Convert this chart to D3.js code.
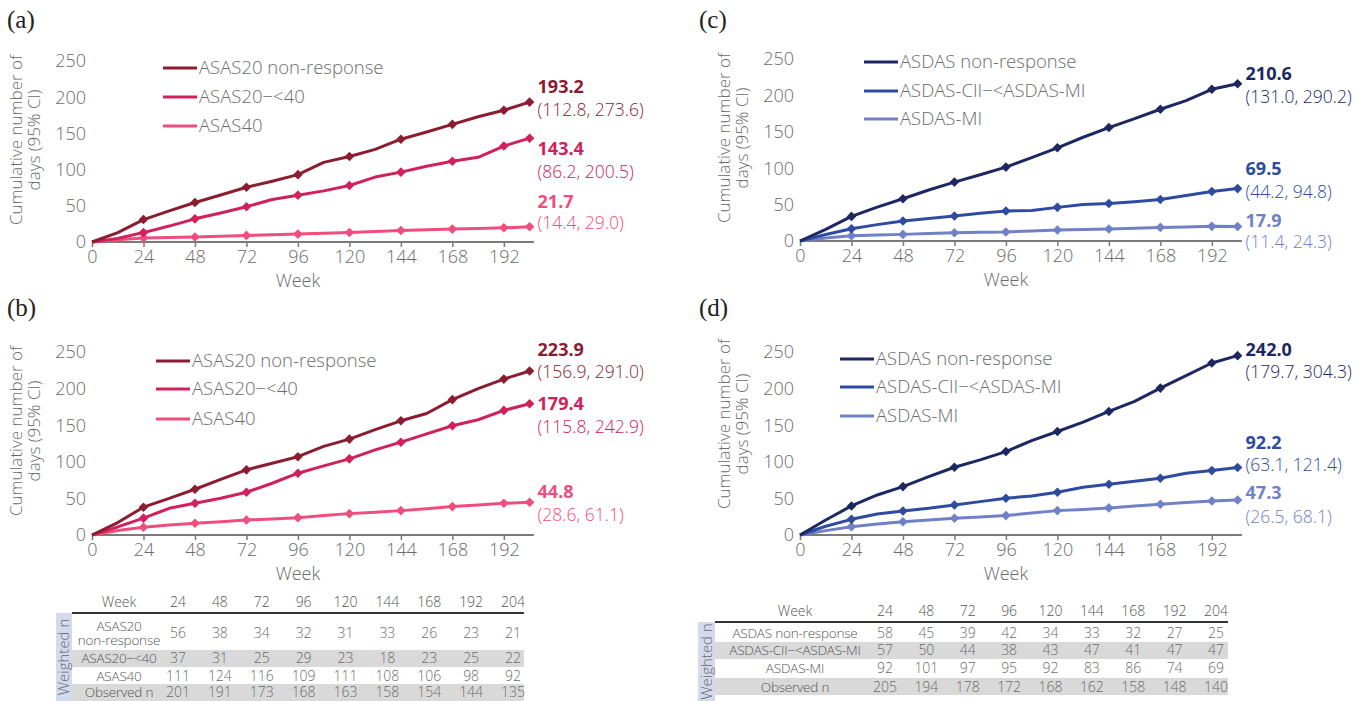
<!DOCTYPE html>
<html lang="en">
<head>
<meta charset="utf-8">
<title>Cumulative number of days</title>
<script src="https://cdn.jsdelivr.net/npm/d3@7"></script>
<style>
  body { margin: 0; background: #fff; }
  text { font-family: "Open Sans", sans-serif; font-weight: 300; fill: #6b6b6b; }
</style>
</head>
<body>
<svg id="chart" width="1371" height="701"></svg>
<script>
// ---- data ----
const weeks = [0, 12, 24, 36, 48, 60, 72, 84, 96, 108, 120, 132, 144, 156, 168, 180, 192, 204];
const markerWeeks = [24, 48, 72, 96, 120, 144, 168, 192, 204];
const xTicks = [0, 24, 48, 72, 96, 120, 144, 168, 192];
const yTicks = [0, 50, 100, 150, 200, 250];

const asasNames = ["ASAS20 non-response", "ASAS20\u2212<40", "ASAS40"];
const asdasNames = ["ASDAS non-response", "ASDAS-CII\u2212<ASDAS-MI", "ASDAS-MI"];

// panel (a)
const aNonResp = [0, 13, 31, 43, 54.6, 65, 75.6, 84, 93, 110, 118, 128, 142, 152, 162.5, 173, 182, 193.2];
const aMid     = [0, 5, 13, 22, 32, 40, 48.7, 58.7, 64.7, 70.6, 78, 89.7, 96.5, 104.7, 111.6, 117, 132.5, 143.4];
const aHigh    = [0, 3, 5.5, 6.2, 6.8, 8, 9.1, 10, 10.9, 12, 13.2, 14.5, 15.9, 16.8, 17.8, 18.7, 19.6, 21];
const aEst = ["193.2", "143.4", "21.7"];
const aCI  = ["(112.8, 273.6)", "(86.2, 200.5)", "(14.4, 29.0)"];

// panel (b)
const bNonResp = [0, 17, 38, 50, 62.5, 76, 89, 98, 107, 121, 131, 144, 156, 166, 185, 200, 213, 224];
const bMid     = [0, 11, 23, 36.5, 43.3, 50.2, 58.4, 70.7, 84.4, 94.4, 104, 116.3, 126.8, 138.2, 149.2, 157.4, 170.2, 179.4];
const bHigh    = [0, 6, 10.5, 13.5, 16, 18, 20.5, 22, 23.7, 26.5, 29.2, 31, 33.3, 36, 38.8, 41, 43.3, 44.8];
const bEst = ["223.9", "179.4", "44.8"];
const bCI  = ["(156.9, 291.0)", "(115.8, 242.9)", "(28.6, 61.1)"];

// panel (c)
const cNonResp = [0, 16, 33.8, 46.5, 58, 70, 80.9, 91, 101.5, 114.5, 128, 142.5, 155.8, 168, 181, 192.9, 208.4, 216];
const cMid     = [0, 9, 16.9, 22.5, 27.4, 31, 34.3, 38, 41.1, 42, 46.2, 50, 51.6, 54, 57.1, 62.5, 68.1, 72];
const cHigh    = [0, 4, 7.3, 8.3, 9.1, 10.2, 11.4, 12, 12.3, 13.8, 15.1, 15.8, 16.5, 17.6, 18.7, 19.4, 20.1, 20];
const cEst = ["210.6", "69.5", "17.9"];
const cCI  = ["(131.0, 290.2)", "(44.2, 94.8)", "(11.4, 24.3)"];

// panel (d)
const dNonResp = [0, 20.5, 39.7, 54.7, 66.1, 79.8, 92.6, 102.6, 114, 129, 141.4, 154.2, 168.8, 182.5, 200.7, 217.6, 235, 245];
const dMid     = [0, 12, 21.4, 28.7, 32.8, 36.5, 41, 45.6, 50.2, 53.4, 58.4, 65.2, 69.3, 73.4, 77.6, 84.4, 88, 92.2];
const dHigh    = [0, 6, 11.4, 15, 18.2, 20.5, 22.8, 24.5, 26.5, 30, 33.3, 35, 37, 39.5, 42, 44.5, 46.5, 47.9];
const dEst = ["242.0", "92.2", "47.3"];
const dCI  = ["(179.7, 304.3)", "(63.1, 121.4)", "(26.5, 68.1)"];

// tables
const tableWeeks = [24, 48, 72, 96, 120, 144, 168, 192, 204];
const asasRowLabels = [["ASAS20", "non-response"], ["ASAS20\u2212<40"], ["ASAS40"], ["Observed n"]];
const asasN = [
  [56, 38, 34, 32, 31, 33, 26, 23, 21],
  [37, 31, 25, 29, 23, 18, 23, 25, 22],
  [111, 124, 116, 109, 111, 108, 106, 98, 92],
  [201, 191, 173, 168, 163, 158, 154, 144, 135]
];
const asdasRowLabels = [["ASDAS non-response"], ["ASDAS-CII\u2212<ASDAS-MI"], ["ASDAS-MI"], ["Observed n"]];
const asdasN = [
  [58, 45, 39, 42, 34, 33, 32, 27, 25],
  [57, 50, 44, 38, 43, 47, 41, 47, 47],
  [92, 101, 97, 95, 92, 83, 86, 74, 69],
  [205, 194, 178, 172, 168, 162, 158, 148, 140]
];

// ---- styling ----
const redColors = ["#8c1c2f", "#d2205a", "#ef4e7c"];
const blueColors = ["#1d2862", "#2f4b9f", "#7181c8"];

const svg = d3.select("#chart");

function drawPanel(p) {
  const x = d3.scaleLinear().domain([0, 204]).range([p.x0, p.x0 + 204 * 2.145]);
  const y = d3.scaleLinear().domain([0, 250]).range([p.y0, p.yTop]);
  const g = svg.append("g");

  g.append("text")
    .attr("x", p.tagX).attr("y", p.tagY)
    .style("font-family", "'Liberation Serif', 'DejaVu Serif', serif")
    .style("font-weight", "400")
    .style("font-size", "25px").style("fill", "#222")
    .text(p.tag);

  // y title
  const ty = g.append("text")
    .attr("transform", "translate(" + p.titleX + "," + p.titleY + ") rotate(-90)")
    .attr("text-anchor", "middle")
    .style("font-size", "17px");
  ty.append("tspan").attr("x", 0).attr("dy", "0").text("Cumulative number of");
  ty.append("tspan").attr("x", 0).attr("dy", "18").text("days (95% CI)");

  // y tick labels (no axis line)
  g.selectAll(".ytick").data(yTicks).enter().append("text")
    .attr("x", p.x0 - 6).attr("y", d => y(d))
    .attr("dy", "0.35em").attr("text-anchor", "end")
    .style("font-size", "18px")
    .text(d => d);

  // x axis
  const xa = g.append("g")
    .attr("transform", "translate(0," + p.y0 + ")")
    .call(d3.axisBottom(x).tickValues(xTicks).tickSize(5).tickPadding(3).tickSizeOuter(0));
  xa.select(".domain").attr("stroke", "#7a7a7a").attr("stroke-width", 2.2)
    .attr("d", "M" + p.x0 + ",0H" + (x(206)));
  xa.selectAll(".tick line").attr("stroke", "#7a7a7a").attr("stroke-width", 1.5);
  xa.selectAll(".tick text").style("font-size", "18px")
    .style("font-family", "'Open Sans', sans-serif").style("font-weight", "300")
    .attr("fill", "#6b6b6b");

  g.append("text")
    .attr("x", x(96)).attr("y", p.y0 + 39)
    .attr("dy", "0.35em")
    .attr("text-anchor", "middle")
    .style("font-size", "18px")
    .text("Week");

  const line = d3.line().x(d => x(d.w)).y(d => y(d.v));
  const sym = d3.symbol().type(d3.symbolSquare).size(46);

  // draw light series first
  [2, 1, 0].forEach(i => {
    const pts = weeks.map((w, k) => ({ w: w, v: p.series[i][k] }));
    g.append("path").datum(pts)
      .attr("fill", "none").attr("stroke", p.colors[i])
      .attr("stroke-width", 3).attr("stroke-linejoin", "round")
      .attr("d", line);
    g.selectAll(".m" + i).data(pts.filter(d => markerWeeks.includes(d.w))).enter()
      .append("path")
      .attr("d", sym)
      .attr("transform", d => "translate(" + x(d.w) + "," + y(d.v) + ") rotate(45)")
      .attr("fill", p.colors[i]);
  });

  // legend
  p.names.forEach((n, i) => {
    g.append("line")
      .attr("x1", p.legX).attr("x2", p.legX + 34)
      .attr("y1", p.legY[i]).attr("y2", p.legY[i])
      .attr("stroke", p.colors[i]).attr("stroke-width", 3);
    g.append("text")
      .attr("x", p.legX + 36).attr("y", p.legY[i])
      .attr("dy", "0.35em")
      .style("font-size", "18.5px")
      .text(n);
  });

  // end labels
  p.est.forEach((e, i) => {
    g.append("text")
      .attr("x", x(204) + 8).attr("y", p.labY[i][0])
      .attr("dy", "0.35em")
      .style("font-size", "18px").style("font-weight", "700")
      .style("fill", p.colors[i])
      .text(e);
    g.append("text")
      .attr("x", x(204) + 8).attr("y", p.labY[i][1])
      .attr("dy", "0.35em")
      .style("font-size", "17.5px")
      .style("fill", p.colors[i])
      .text(p.ci[i]);
  });
}

drawPanel({ tag: "(a)", tagX: 7, tagY: 28, x0: 92, y0: 242, yTop: 61, titleX: 22, titleY: 140,
  series: [aNonResp, aMid, aHigh], colors: redColors, names: asasNames,
  legX: 163, legY: [68, 97, 126], est: aEst, ci: aCI,
  labY: [[87, 110], [149, 172], [202, 223]] });
drawPanel({ tag: "(b)", tagX: 7, tagY: 316, x0: 92, y0: 535, yTop: 352, titleX: 22, titleY: 431,
  series: [bNonResp, bMid, bHigh], colors: redColors, names: asasNames,
  legX: 156, legY: [361, 389, 419], est: bEst, ci: bCI,
  labY: [[350, 372], [404, 427], [492, 515]] });
drawPanel({ tag: "(c)", tagX: 699, tagY: 28, x0: 800, y0: 241, yTop: 59, titleX: 730, titleY: 138,
  series: [cNonResp, cMid, cHigh], colors: blueColors, names: asdasNames,
  legX: 864, legY: [62, 91, 119], est: cEst, ci: cCI,
  labY: [[74, 97], [169, 192], [221, 242]] });
drawPanel({ tag: "(d)", tagX: 699, tagY: 316, x0: 800, y0: 535, yTop: 352, titleX: 730, titleY: 424,
  series: [dNonResp, dMid, dHigh], colors: blueColors, names: asdasNames,
  legX: 840, legY: [359, 387, 416], est: dEst, ci: dCI,
  labY: [[350, 372], [443, 465], [493, 517]] });

function drawTable(t) {
  const g = svg.append("g");
  const col = d3.scalePoint().domain(tableWeeks).range([t.col0, t.col1]);

  // gray stripes
  t.gray.forEach(r => {
    g.append("rect").attr("x", t.left).attr("y", r[0])
      .attr("width", t.right - t.left).attr("height", r[1] - r[0])
      .attr("fill", "#d9d9d9");
  });
  // weighted n band
  g.append("rect").attr("x", t.band[0]).attr("y", t.lineY)
    .attr("width", t.band[1] - t.band[0]).attr("height", 701 - t.lineY)
    .attr("fill", "#d3daee");
  g.append("text")
    .attr("transform", "translate(" + ((t.band[0] + t.band[1]) / 2) + "," + ((t.lineY + 701) / 2) + ") rotate(-90)")
    .attr("text-anchor", "middle").attr("dy", "0.35em")
    .style("font-size", "15px")
    .text("Weighted n");

  g.append("line").attr("x1", t.left).attr("x2", t.right)
    .attr("y1", t.lineY).attr("y2", t.lineY)
    .attr("stroke", "#333").attr("stroke-width", 1.8);

  g.append("text").attr("x", t.labelX).attr("y", t.headY).attr("dy", "0.35em")
    .attr("text-anchor", "middle").style("font-size", "14px").style("fill", "#555").text("Week");
  g.selectAll(".hd").data(tableWeeks).enter().append("text")
    .attr("x", d => col(d)).attr("y", t.headY).attr("dy", "0.35em")
    .attr("text-anchor", "middle").style("font-size", "14px").style("fill", "#555")
    .text(d => d);

  t.labels.forEach((lab, r) => {
    lab.forEach((s, k) => {
      g.append("text").attr("x", t.labelX)
        .attr("y", t.rowY[r] + (lab.length > 1 ? (k - 0.5) * 14 : 0))
        .attr("dy", "0.35em").attr("text-anchor", "middle")
        .style("font-size", "13.5px").style("fill", "#555")
        .style("letter-spacing", "-0.2px")
        .text(s);
    });
    g.selectAll(".v" + r).data(t.values[r]).enter().append("text")
      .attr("x", (d, i) => col(tableWeeks[i])).attr("y", t.rowY[r])
      .attr("dy", "0.35em").attr("text-anchor", "middle")
      .style("font-size", "14px").style("fill", "#6b6b6b")
      .text(d => d);
  });
}

drawTable({ left: 72, right: 524, band: [56, 72], lineY: 613, headY: 602,
  labelX: 119, col0: 178, col1: 513,
  rowY: [633, 658, 676, 692], gray: [[650, 667], [684, 701]],
  labels: asasRowLabels, values: asasN });
drawTable({ left: 715, right: 1228, band: [698, 715], lineY: 622, headY: 611,
  labelX: 795, col0: 885, col1: 1216,
  rowY: [633, 650, 668, 687], gray: [[642, 659], [678, 695]],
  labels: asdasRowLabels, values: asdasN });
</script>
</body>
</html>
